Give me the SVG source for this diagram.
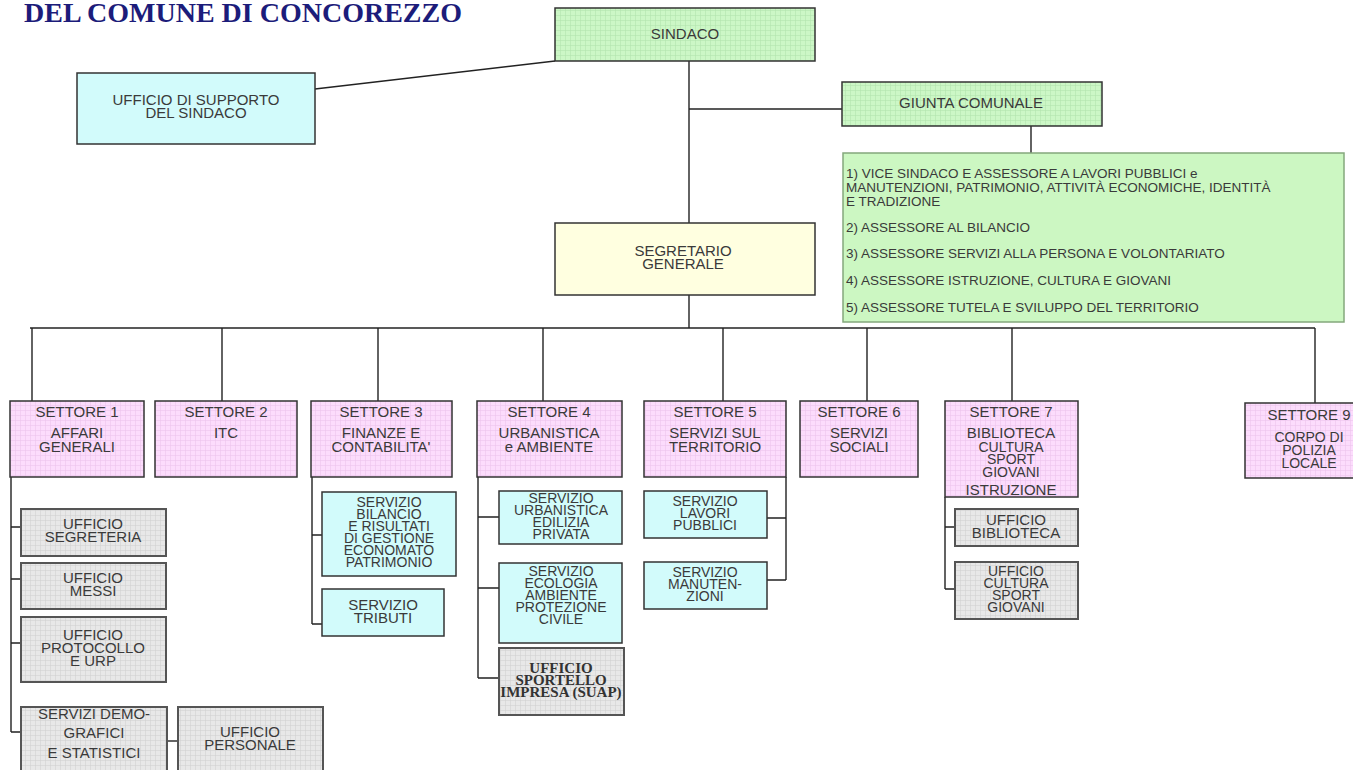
<svg xmlns="http://www.w3.org/2000/svg" width="1353" height="770" viewBox="0 0 1353 770">
<defs>
<pattern id="gGreen" width="5" height="5" patternUnits="userSpaceOnUse"><rect width="5" height="5" fill="#ccf7c6"/><path d="M0 0.5H5M0.5 0V5" stroke="#b4e4ae" stroke-width="0.6"/></pattern>
<pattern id="gPink" width="5" height="5" patternUnits="userSpaceOnUse"><rect width="5" height="5" fill="#fcdcfc"/><path d="M0 0.5H5M0.5 0V5" stroke="#ecc4ec" stroke-width="0.6"/></pattern>
<pattern id="gGray" width="5" height="5" patternUnits="userSpaceOnUse"><rect width="5" height="5" fill="#e8e8e8"/><path d="M0 0.5H5M0.5 0V5" stroke="#d2d2d2" stroke-width="0.6"/></pattern>
</defs>
<style>
text{font-family:"Liberation Sans",Arial,sans-serif;font-size:15px;fill:#3a3a3a;text-anchor:middle}
.sm{font-size:14px}
.green{fill:url(#gGreen);stroke:#333;stroke-width:1.5}
.pink{fill:url(#gPink);stroke:#333;stroke-width:1.5}
.gray{fill:url(#gGray);stroke:#555;stroke-width:2}
.cyan{fill:#d2fbfb;stroke:#333;stroke-width:1.5}
.yellow{fill:#ffffe0;stroke:#333;stroke-width:1.5}
.list{fill:#ccf7c2;stroke:#84a87c;stroke-width:1.5}
.lt{font-size:13.5px;text-anchor:start}
.serif{font-family:"Liberation Serif","Times New Roman",serif;font-weight:bold;fill:#333}
.title{font-family:"Liberation Serif","Times New Roman",serif;font-weight:bold;font-size:28px;fill:#1c1c7a;text-anchor:start}
#connectors line,#connectors path{stroke:#222;stroke-width:1.4;fill:none}
</style>
<rect width="1353" height="770" fill="#fff"/>
<text class="title" x="24" y="22">DEL COMUNE DI CONCOREZZO</text>
<g id="connectors">
<line x1="315" y1="89" x2="555" y2="61"/>
<line x1="689" y1="61" x2="689" y2="223"/>
<line x1="689" y1="295" x2="689" y2="328"/>
<line x1="689" y1="109" x2="842" y2="109"/>
<line x1="1031" y1="126" x2="1031" y2="153"/>
<line x1="30" y1="328" x2="1315" y2="328"/>
<line x1="32" y1="328" x2="32" y2="401"/>
<line x1="222" y1="328" x2="222" y2="401"/>
<line x1="378" y1="328" x2="378" y2="401"/>
<line x1="543" y1="328" x2="543" y2="401"/>
<line x1="723" y1="328" x2="723" y2="401"/>
<line x1="867" y1="328" x2="867" y2="401"/>
<line x1="1012" y1="328" x2="1012" y2="401"/>
<line x1="1315" y1="328" x2="1315" y2="403"/>
<path d="M11 477V732M11 527H21M11 579H21M11 643H21M11 732H21"/>
<line x1="167" y1="741" x2="178" y2="741"/>
<path d="M312 477V624M312 535H322M312 624H322"/>
<path d="M478 477V678M478 517H499M478 588H499M478 678H499"/>
<path d="M786 477V580M767 518H786M767 580H786"/>
<path d="M945 497V589M945 527H955M945 589H955"/>
</g>
<g id="sindaco"><rect class="green" x="555" y="8" width="260" height="53"/><text x="685" y="39">SINDACO</text></g>
<g id="ufficio-supporto"><rect class="cyan" x="77" y="73" width="238" height="71"/><text x="196" y="105">UFFICIO DI SUPPORTO</text><text x="196" y="118">DEL SINDACO</text></g>
<g id="giunta"><rect class="green" x="842" y="82" width="260" height="44"/><text x="971" y="108">GIUNTA COMUNALE</text></g>
<g id="assessori"><rect class="list" x="843" y="153" width="501" height="169"/>
<text class="lt" x="846" y="178">1) VICE SINDACO E ASSESSORE A LAVORI PUBBLICI e</text>
<text class="lt" x="846" y="192">MANUTENZIONI, PATRIMONIO, ATTIVITÀ ECONOMICHE, IDENTITÀ</text>
<text class="lt" x="846" y="206">E TRADIZIONE</text>
<text class="lt" x="846" y="232">2) ASSESSORE AL BILANCIO</text>
<text class="lt" x="846" y="258">3) ASSESSORE SERVIZI ALLA PERSONA E VOLONTARIATO</text>
<text class="lt" x="846" y="285">4) ASSESSORE ISTRUZIONE, CULTURA E GIOVANI</text>
<text class="lt" x="846" y="312">5) ASSESSORE TUTELA E SVILUPPO DEL TERRITORIO</text></g>
<g id="segretario"><rect class="yellow" x="555" y="223" width="260" height="72"/><text x="683" y="256">SEGRETARIO</text><text x="683" y="269">GENERALE</text></g>
<g id="settore1"><rect class="pink" x="10" y="401" width="134" height="76"/><text x="77" y="417">SETTORE 1</text><text x="77" y="438">AFFARI</text><text x="77" y="452">GENERALI</text></g>
<g id="settore2"><rect class="pink" x="155" y="401" width="142" height="76"/><text x="226" y="417">SETTORE 2</text><text x="226" y="438">ITC</text></g>
<g id="settore3"><rect class="pink" x="311" y="401" width="141" height="76"/><text x="381" y="417">SETTORE 3</text><text x="381" y="438">FINANZE E</text><text x="381" y="452">CONTABILITA'</text></g>
<g id="settore4"><rect class="pink" x="477" y="401" width="145" height="76"/><text x="549" y="417">SETTORE 4</text><text x="549" y="438">URBANISTICA</text><text x="549" y="452">e AMBIENTE</text></g>
<g id="settore5"><rect class="pink" x="644" y="401" width="142" height="76"/><text x="715" y="417">SETTORE 5</text><text x="715" y="438">SERVIZI SUL</text><text x="715" y="452">TERRITORIO</text></g>
<g id="settore6"><rect class="pink" x="800" y="401" width="118" height="76"/><text x="859" y="417">SETTORE 6</text><text x="859" y="438">SERVIZI</text><text x="859" y="452">SOCIALI</text></g>
<g id="settore7"><rect class="pink" x="945" y="401" width="133" height="96"/><text x="1011" y="417">SETTORE 7</text><text x="1011" y="438">BIBLIOTECA</text><text class="sm" x="1011" y="452">CULTURA</text><text class="sm" x="1011" y="464">SPORT</text><text class="sm" x="1011" y="477">GIOVANI</text><text x="1011" y="495">ISTRUZIONE</text></g>
<g id="settore9"><rect class="pink" x="1245" y="403" width="120" height="75"/><text x="1309" y="420">SETTORE 9</text><text class="sm" x="1309" y="442">CORPO DI</text><text class="sm" x="1309" y="455">POLIZIA</text><text class="sm" x="1309" y="468">LOCALE</text></g>
<g id="uff-segreteria"><rect class="gray" x="21" y="509" width="145" height="47"/><text x="93" y="529">UFFICIO</text><text x="93" y="542">SEGRETERIA</text></g>
<g id="uff-messi"><rect class="gray" x="21" y="563" width="145" height="46"/><text x="93" y="583">UFFICIO</text><text x="93" y="596">MESSI</text></g>
<g id="uff-protocollo"><rect class="gray" x="21" y="617" width="145" height="65"/><text x="93" y="640">UFFICIO</text><text x="93" y="653">PROTOCOLLO</text><text x="93" y="666">E URP</text></g>
<g id="serv-demografici"><rect class="gray" x="21" y="707" width="146" height="70"/><text x="94" y="719">SERVIZI DEMO-</text><text x="94" y="738">GRAFICI</text><text x="94" y="758">E STATISTICI</text></g>
<g id="uff-personale"><rect class="gray" x="178" y="707" width="145" height="70"/><text x="250" y="737">UFFICIO</text><text x="250" y="750">PERSONALE</text></g>
<g id="serv-bilancio"><rect class="cyan" x="322" y="492" width="134" height="84"/><text class="sm" x="389" y="507">SERVIZIO</text><text class="sm" x="389" y="519">BILANCIO</text><text class="sm" x="389" y="531">E RISULTATI</text><text class="sm" x="389" y="543">DI GESTIONE</text><text class="sm" x="389" y="555">ECONOMATO</text><text class="sm" x="389" y="567">PATRIMONIO</text></g>
<g id="serv-tributi"><rect class="cyan" x="322" y="589" width="122" height="47"/><text x="383" y="610">SERVIZIO</text><text x="383" y="623">TRIBUTI</text></g>
<g id="serv-urbanistica"><rect class="cyan" x="499" y="491" width="123" height="53"/><text class="sm" x="561" y="503">SERVIZIO</text><text class="sm" x="561" y="515">URBANISTICA</text><text class="sm" x="561" y="527">EDILIZIA</text><text class="sm" x="561" y="539">PRIVATA</text></g>
<g id="serv-ecologia"><rect class="cyan" x="499" y="563" width="123" height="80"/><text class="sm" x="561" y="576">SERVIZIO</text><text class="sm" x="561" y="588">ECOLOGIA</text><text class="sm" x="561" y="600">AMBIENTE</text><text class="sm" x="561" y="612">PROTEZIONE</text><text class="sm" x="561" y="624">CIVILE</text></g>
<g id="uff-suap"><rect class="gray" x="499" y="648" width="125" height="67"/><text class="serif" x="561" y="673">UFFICIO</text><text class="serif" x="561" y="685">SPORTELLO</text><text class="serif" x="561" y="697">IMPRESA (SUAP)</text></g>
<g id="serv-lavori"><rect class="cyan" x="644" y="491" width="123" height="47"/><text class="sm" x="705" y="506">SERVIZIO</text><text class="sm" x="705" y="518">LAVORI</text><text class="sm" x="705" y="530">PUBBLICI</text></g>
<g id="serv-manutenzioni"><rect class="cyan" x="644" y="562" width="123" height="47"/><text class="sm" x="705" y="577">SERVIZIO</text><text class="sm" x="705" y="589">MANUTEN-</text><text class="sm" x="705" y="601">ZIONI</text></g>
<g id="uff-biblioteca"><rect class="gray" x="955" y="509" width="123" height="37"/><text x="1016" y="525">UFFICIO</text><text x="1016" y="538">BIBLIOTECA</text></g>
<g id="uff-cultura"><rect class="gray" x="955" y="562" width="123" height="57"/><text class="sm" x="1016" y="576">UFFICIO</text><text class="sm" x="1016" y="588">CULTURA</text><text class="sm" x="1016" y="600">SPORT</text><text class="sm" x="1016" y="612">GIOVANI</text></g>
</svg>
